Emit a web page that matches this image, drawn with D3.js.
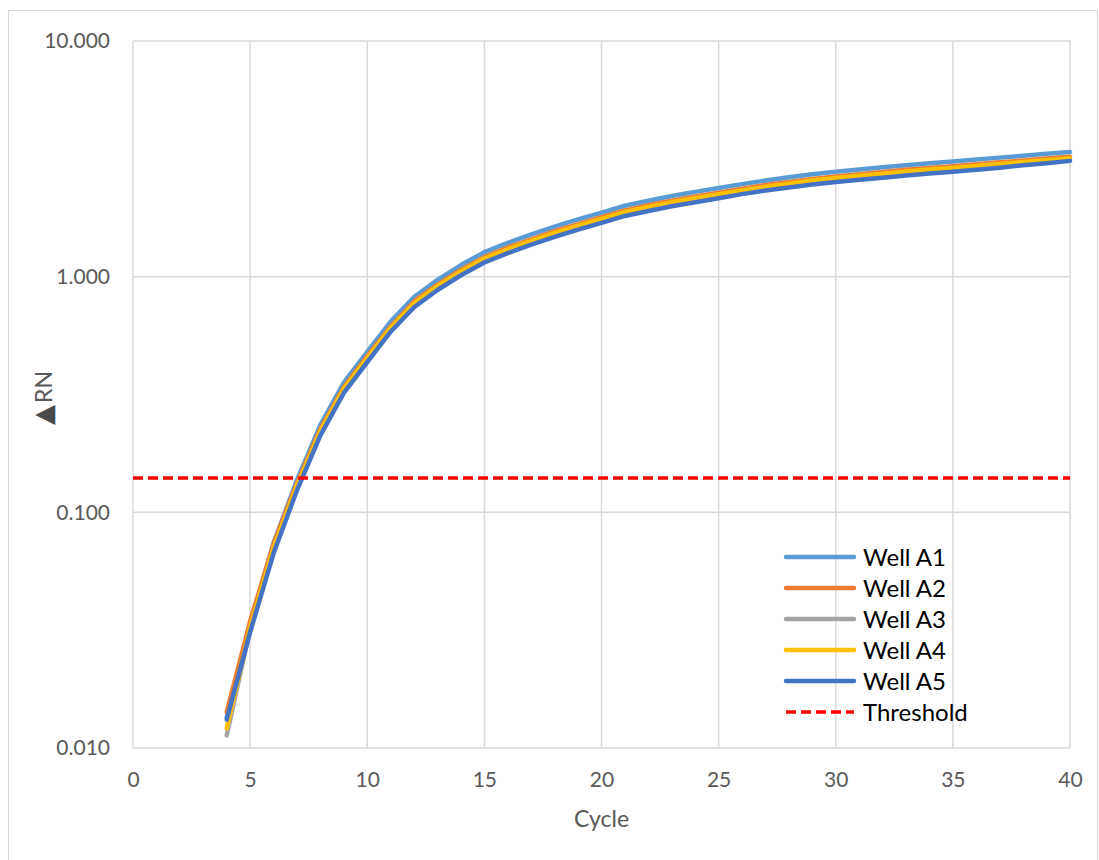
<!DOCTYPE html>
<html>
<head>
<meta charset="utf-8">
<script src="https://cdn.jsdelivr.net/npm/d3@7"></script>
<style>
  html, body { margin: 0; padding: 0; background: #fff; }
  svg { display: block; }
  text { font-family: Lato, "Open Sans", sans-serif; }
</style>
</head>
<body>
<svg id="chart" width="1099" height="860"></svg>
<script>
const cycles = d3.range(4, 41);
const seriesNames = ["Well A1", "Well A2", "Well A3", "Well A4", "Well A5"];
const wellA1 = [0.0135,0.0335,0.074,0.137,0.235,0.355,0.48,0.645,0.82,0.97,1.12,1.27,1.39,1.51,1.63,1.75,1.87,2.00,2.10,2.20,2.29,2.38,2.47,2.56,2.64,2.72,2.79,2.85,2.91,2.97,3.03,3.08,3.14,3.20,3.26,3.32,3.38];
const wellA2 = [0.0142,0.0345,0.0735,0.133,0.226,0.34,0.46,0.615,0.785,0.925,1.07,1.21,1.33,1.44,1.56,1.67,1.79,1.91,2.01,2.10,2.19,2.27,2.36,2.45,2.52,2.60,2.66,2.72,2.78,2.84,2.89,2.94,3.00,3.06,3.11,3.17,3.23];
const wellA3 = [0.0113,0.032,0.070,0.129,0.22,0.332,0.449,0.603,0.767,0.907,1.047,1.19,1.30,1.41,1.52,1.64,1.75,1.87,1.96,2.06,2.14,2.23,2.31,2.39,2.47,2.54,2.61,2.66,2.72,2.78,2.83,2.88,2.94,2.99,3.05,3.10,3.16];
const wellA4 = [0.0121,0.0325,0.0705,0.1295,0.221,0.334,0.451,0.606,0.771,0.912,1.053,1.194,1.307,1.419,1.532,1.645,1.758,1.88,1.974,2.068,2.153,2.237,2.322,2.406,2.482,2.557,2.623,2.679,2.735,2.792,2.848,2.895,2.952,3.008,3.064,3.121,3.177];
const wellA5 = [0.0132,0.031,0.067,0.124,0.212,0.321,0.434,0.584,0.742,0.878,1.014,1.149,1.258,1.367,1.475,1.584,1.692,1.81,1.90,1.99,2.07,2.15,2.24,2.32,2.39,2.46,2.52,2.58,2.63,2.69,2.74,2.79,2.84,2.90,2.97,3.03,3.10];
const thresholdValue = 0.14;
const xTicks = [0,5,10,15,20,25,30,35,40];
const yTicks = [0.01, 0.1, 1, 10];
const yTickLabels = ["0.010", "0.100", "1.000", "10.000"];
const colors = ["#5B9BD5", "#ED7D31", "#A5A5A5", "#FFC000", "#4472C4"];
const thresholdColor = "#FF0000";

const allSeries = [wellA1, wellA2, wellA3, wellA4, wellA5];

const svg = d3.select("#chart");
const plot = { left: 133, right: 1070, top: 41, bottom: 748 };

// outer chart border
svg.append("rect").attr("x", 8.5).attr("y", 10.5).attr("width", 1089).attr("height", 870)
  .attr("fill", "none").attr("stroke", "#D9D9D9").attr("stroke-width", 1);

const x = d3.scaleLinear().domain([0, 40]).range([plot.left, plot.right]);
const y = d3.scaleLog().domain([0.01, 10]).range([plot.bottom, plot.top]);

// gridlines
const grid = svg.append("g");
grid.selectAll("line.v").data(xTicks).join("line")
  .attr("x1", d => x(d)).attr("x2", d => x(d))
  .attr("y1", plot.top).attr("y2", plot.bottom)
  .attr("stroke", "#D9D9D9").attr("stroke-width", 1.5);
grid.selectAll("line.h").data(yTicks).join("line")
  .attr("x1", plot.left).attr("x2", plot.right)
  .attr("y1", d => y(d)).attr("y2", d => y(d))
  .attr("stroke", "#D9D9D9").attr("stroke-width", 1.5);

// axes (labels only)
const xAxis = d3.axisBottom(x).tickValues(xTicks).tickSize(0).tickPadding(24);
const gx = svg.append("g").attr("transform", `translate(0,${plot.bottom})`).call(xAxis);
gx.select(".domain").remove();
gx.selectAll("text").attr("fill", "#595959").style("font-size", "21px").style("font-family", "Lato, 'Open Sans', sans-serif");

const yAxis = d3.axisLeft(y).tickValues(yTicks).tickFormat((d, i) => yTickLabels[i]).tickSize(0).tickPadding(23);
const gy = svg.append("g").attr("transform", `translate(${plot.left},0)`).call(yAxis);
gy.select(".domain").remove();
gy.selectAll("text").attr("fill", "#595959").style("font-size", "21px").style("font-family", "Lato, 'Open Sans', sans-serif");

// axis titles
svg.append("text").attr("x", (plot.left + plot.right) / 2).attr("y", 827)
  .attr("text-anchor", "middle").attr("fill", "#595959").style("font-size", "23px").text("Cycle");
const yt = svg.append("text").attr("transform", "translate(52,398) rotate(-90)")
  .attr("text-anchor", "middle").attr("fill", "#595959").style("font-size", "23px");
yt.append("tspan").style("font-size", "26px").style("font-family", "'DejaVu Sans', sans-serif").attr("fill", "#4a4a4a").text("▲");
yt.append("tspan").attr("dx", 2).text("RN");

// lines
const line = d3.line().x((d, i) => x(cycles[i])).y(d => y(d)).curve(d3.curveLinear);
const gLines = svg.append("g");
allSeries.forEach((s, k) => {
  gLines.append("path").datum(s).attr("d", line)
    .attr("fill", "none").attr("stroke", colors[k]).attr("stroke-width", 4.5)
    .attr("stroke-linejoin", "round").attr("stroke-linecap", "round");
});

// threshold
svg.append("line").attr("x1", plot.left).attr("x2", plot.right)
  .attr("y1", y(thresholdValue)).attr("y2", y(thresholdValue))
  .attr("stroke", thresholdColor).attr("stroke-width", 3.5).attr("stroke-dasharray", "10,5");

// legend
const legendItems = seriesNames.map((n, i) => ({ name: n, color: colors[i], dash: null }))
  .concat([{ name: "Threshold", color: thresholdColor, dash: "10,5" }]);
const lg = svg.append("g");
legendItems.forEach((it, i) => {
  const cy = 557 + i * 31;
  lg.append("line").attr("x1", 786).attr("x2", 854).attr("y1", cy).attr("y2", cy)
    .attr("stroke", it.color).attr("stroke-width", it.dash ? 3.5 : 4.5)
    .attr("stroke-linecap", it.dash ? "butt" : "round")
    .attr("stroke-dasharray", it.dash);
  lg.append("text").attr("x", 863).attr("y", cy).attr("dy", "0.36em")
    .attr("fill", "#000").style("font-size", "24px").text(it.name);
});
</script>
</body>
</html>
